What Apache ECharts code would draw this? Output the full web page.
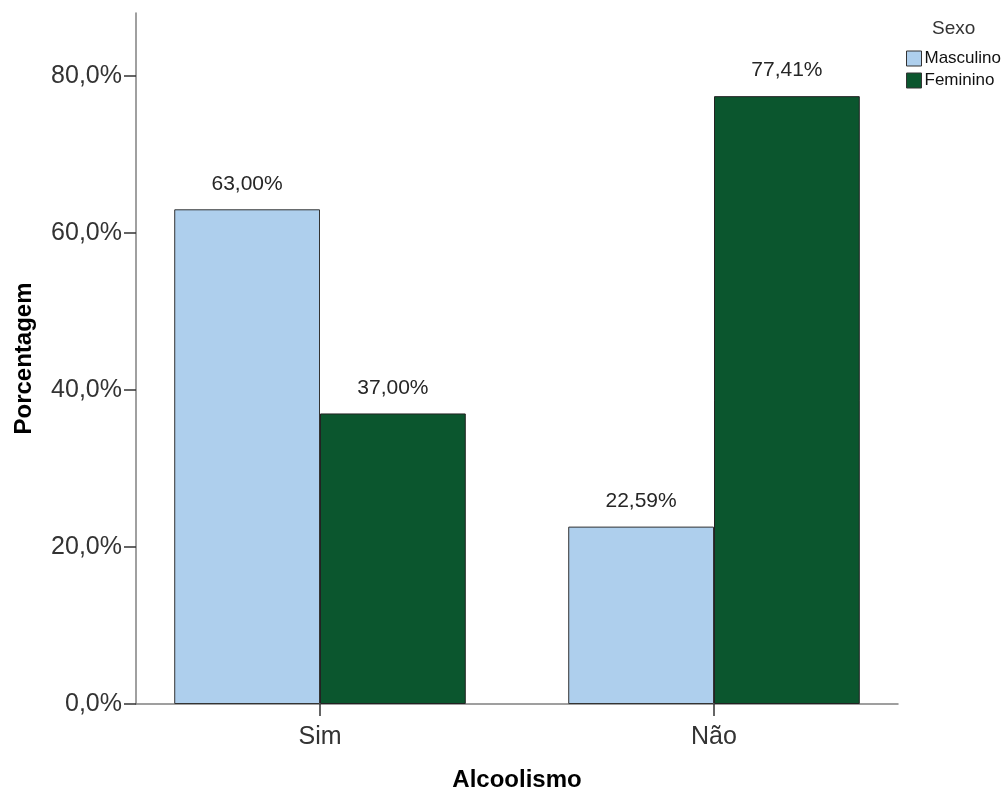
<!DOCTYPE html>
<html>
<head>
<meta charset="utf-8">
<script src="https://cdn.jsdelivr.net/npm/echarts@6/dist/echarts.min.js"></script>
<style>
html,body{margin:0;padding:0;background:#fff;}
#chart{width:1002px;height:790px;}
</style>
</head>
<body>
<div id="chart"></div>
<script>
var categories = ['Sim', 'Não'];
var seriesNames = ['Masculino', 'Feminino'];
var masculino = [63.00, 22.59];
var feminino = [37.00, 77.41];
var yTicks = [0, 20, 40, 60, 80];

var chart = echarts.init(document.getElementById('chart'));
var font = 'Arial, "Liberation Sans", sans-serif';
function pct2(v){ return v.toFixed(2).replace('.', ',') + '%'; }
function pct1(v){ return Number(v).toFixed(1).replace('.', ',') + '%'; }

var barLabel = {
  show: true, position: 'top', distance: 15,
  fontFamily: font, fontSize: 21, color: '#262626',
  formatter: function(p){ return pct2(p.value); }
};

chart.setOption({
  animation: false,
  backgroundColor: '#fff',
  title: {
    text: 'Sexo', left: 927, top: 14,
    textStyle: { fontFamily: font, fontSize: 19, fontWeight: 'normal', color: '#333' }
  },
  legend: {
    data: seriesNames, orient: 'vertical', left: 901, top: 45,
    icon: 'rect',
    itemWidth: 15, itemHeight: 15, itemGap: 5,
    textStyle: { fontFamily: font, fontSize: 17, color: '#111', padding: [0,0,0,-2] },
    itemStyle: { borderColor: '#333', borderWidth: 1 }
  },
  grid: [
    { left: 136, right: 104, top: 13, bottom: 86, containLabel: false, outerBoundsMode: 'none' },
    { left: 123, right: 91, top: 13, bottom: 86, containLabel: false, outerBoundsMode: 'none' }
  ],
  xAxis: [
    {
      gridIndex: 0, type: 'category', data: categories,
      axisLine: { show: true, lineStyle: { color: '#808080', width: 1.5 } },
      axisTick: { show: false }, axisLabel: { show: false }
    },
    {
      gridIndex: 1, type: 'category', data: categories,
      axisLine: { show: false },
      axisTick: { show: true, alignWithLabel: true, length: 12, lineStyle: { color: '#333', width: 1.5 } },
      axisLabel: { fontFamily: font, fontSize: 25, color: '#333', margin: 21 },
      name: 'Alcoolismo', nameLocation: 'middle', nameGap: 64,
      nameTextStyle: { fontFamily: font, fontSize: 24, fontWeight: 'bold', color: '#000' }
    }
  ],
  yAxis: [
    {
      gridIndex: 0, type: 'value', min: 0, max: 88,
      axisLine: { show: true, lineStyle: { color: '#808080', width: 1.5 } },
      axisTick: { show: true, length: 12, customValues: yTicks, lineStyle: { color: '#333', width: 1.5 } },
      axisLabel: { customValues: yTicks, fontFamily: font, fontSize: 25, color: '#333', margin: 14,
        formatter: function(v){ return pct1(v); } },
      splitLine: { show: false },
      name: 'Porcentagem', nameLocation: 'middle', nameGap: 100, nameRotate: 90,
      nameTextStyle: { fontFamily: font, fontSize: 24, fontWeight: 'bold', color: '#000' }
    },
    { gridIndex: 1, type: 'value', min: 0, max: 88, show: false }
  ],
  series: [
    {
      name: seriesNames[0], type: 'bar', xAxisIndex: 1, yAxisIndex: 1,
      data: masculino, barGap: '0%', barCategoryGap: '26%',
      itemStyle: { color: '#aecfed', borderColor: '#333', borderWidth: 1 },
      label: barLabel
    },
    {
      name: seriesNames[1], type: 'bar', xAxisIndex: 1, yAxisIndex: 1,
      data: feminino, barGap: '0%', barCategoryGap: '26%',
      itemStyle: { color: '#0b562e', borderColor: '#222', borderWidth: 1 },
      label: barLabel
    }
  ]
});
</script>
</body>
</html>
